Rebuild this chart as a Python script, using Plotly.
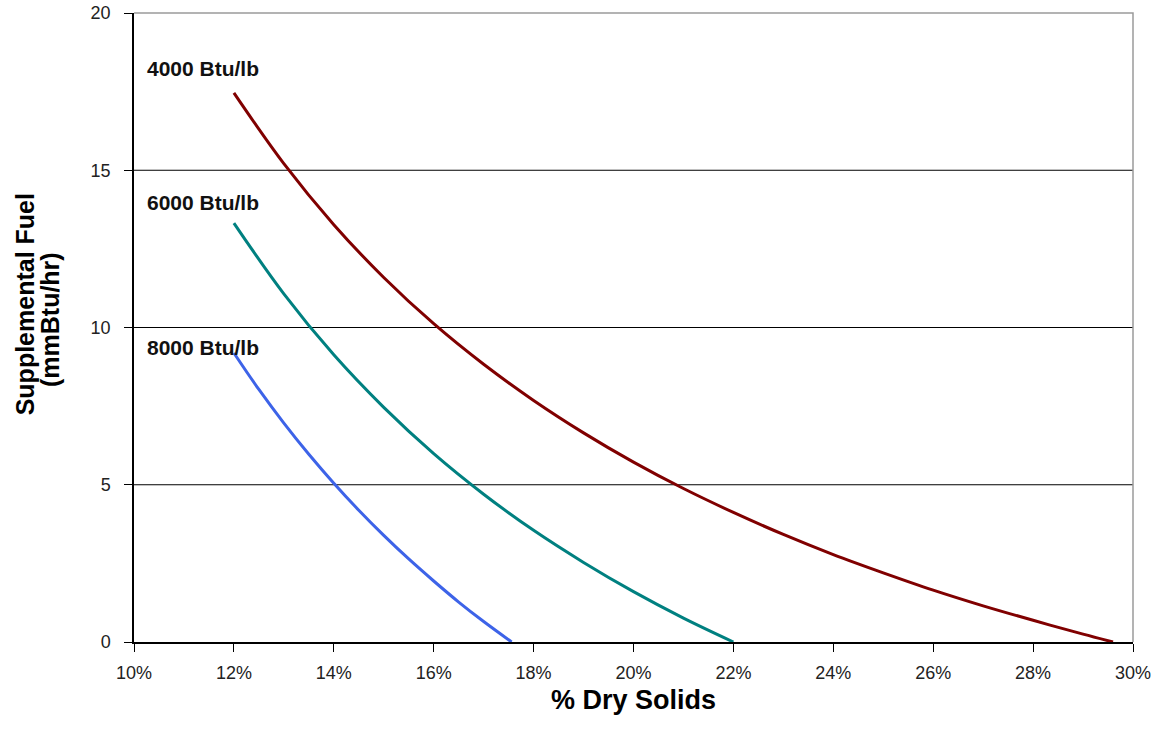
import plotly.graph_objects as go

# % dry solids (x) and supplemental fuel (mmBtu/hr)
x_4000 = [12, 13, 14, 15, 16, 17, 18, 19, 20, 21, 22, 23, 24, 25, 26, 27, 28, 29, 29.6]
y_4000 = [17.46, 15.21, 13.27, 11.59, 10.12, 8.83, 7.68, 6.65, 5.72, 4.88, 4.12, 3.42,
          2.78, 2.20, 1.65, 1.15, 0.69, 0.25, 0.0]

x_6000 = [12, 13, 14, 15, 16, 17, 18, 19, 20, 21, 22]
y_6000 = [13.32, 11.07, 9.13, 7.46, 5.99, 4.70, 3.55, 2.53, 1.60, 0.76, 0.0]

x_8000 = [12, 12.5, 13, 13.5, 14, 14.5, 15, 15.5, 16, 16.5, 17, 17.56]
y_8000 = [9.19, 8.03, 6.96, 5.97, 5.05, 4.19, 3.39, 2.64, 1.94, 1.27, 0.65, 0.0]

series_names = ["4000 Btu/lb", "6000 Btu/lb", "8000 Btu/lb"]
series_colors = ["#800000", "#008080", "#3D63E8"]

x_ticks = [10, 12, 14, 16, 18, 20, 22, 24, 26, 28, 30]
x_ticklabels = [f"{v}%" for v in x_ticks]
y_ticks = [0, 5, 10, 15, 20]
grid_values = [5, 10, 15]

FONT = "Liberation Sans, Arial"

fig = go.Figure()
for xs, ys, name, col in zip([x_4000, x_6000, x_8000], [y_4000, y_6000, y_8000],
                             series_names, series_colors):
    fig.add_trace(go.Scatter(x=xs, y=ys, mode="lines", name=name,
                             line=dict(color=col, width=3, shape="spline"),
                             showlegend=False))

# series labels placed near the start of each curve
label_y = [18.25, 13.99, 9.38]
for name, ly in zip(series_names, label_y):
    fig.add_annotation(x=10.22, y=ly, xref="x", yref="y", text=f"<b>{name}</b>",
                       showarrow=False, xanchor="left", yanchor="middle",
                       font=dict(family=FONT, size=21, color="#111"))

# horizontal gridlines
for g in grid_values:
    fig.add_shape(type="line", xref="x domain", yref="y", x0=0, x1=1, y0=g, y1=g,
                  line=dict(color="black", width=1.2), layer="below")

# gray top/right border
fig.add_shape(type="path", xref="paper", yref="paper",
              path="M 0 1 L 1 1 L 1 0", line=dict(color="#9a9a9a", width=1.5))

# y-axis title (two lines)
fig.add_annotation(xref="paper", yref="paper", x=-0.109, y=0.537,
                   text="<b>Supplemental Fuel</b>", textangle=-90,
                   showarrow=False, xanchor="center", yanchor="middle",
                   font=dict(family=FONT, size=25, color="black"))
fig.add_annotation(xref="paper", yref="paper", x=-0.084, y=0.512,
                   text="<b>(mmBtu/hr)</b>", textangle=-90,
                   showarrow=False, xanchor="center", yanchor="middle",
                   font=dict(family=FONT, size=25, color="black"))

fig.update_layout(
    width=1159, height=731,
    margin=dict(l=134, r=26, t=13, b=89),
    paper_bgcolor="white", plot_bgcolor="white",
    font=dict(family=FONT, color="#222"),
    xaxis=dict(range=[10, 30], tickvals=x_ticks, ticktext=x_ticklabels, automargin=False,
               showgrid=False, zeroline=False, showline=True, linecolor="black",
               linewidth=1.5, ticks="outside", ticklen=8, tickcolor="black",
               ticklabelstandoff=6, ticklabeloverflow="allow",
               tickfont=dict(size=18, color="#222"),
               title=dict(text="<b>% Dry Solids</b>", standoff=8,
                          font=dict(size=27, color="black"))),
    yaxis=dict(range=[0, 20], tickvals=y_ticks, showgrid=False, zeroline=False,
               automargin=False, ticklabelstandoff=10, ticklabeloverflow="allow",
               showline=True, linecolor="black", linewidth=1.5, ticks="outside",
               ticklen=8, tickcolor="black", tickfont=dict(size=18, color="#222")),
)

fig.write_html("out.html", config={"displayModeBar": False},
               post_script="document.body.style.margin='0px';")
